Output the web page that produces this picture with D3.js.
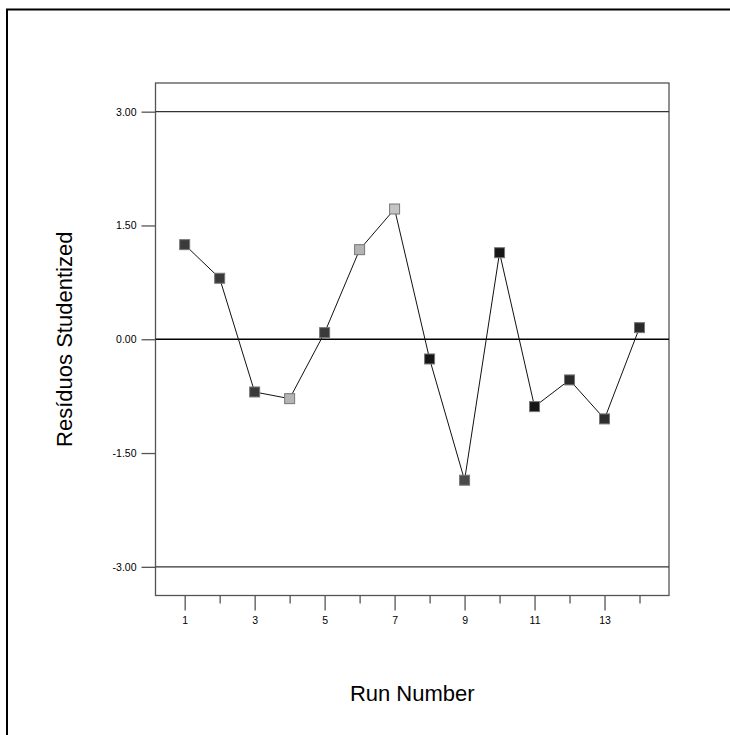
<!DOCTYPE html>
<html>
<head>
<meta charset="utf-8">
<script src="https://cdn.jsdelivr.net/npm/d3@7"></script>
<style>
  body { margin: 0; background: #fff; overflow: hidden; }
  svg { display: block; font-family: "Liberation Sans", Arial, sans-serif; }
</style>
</head>
<body>
<svg id="chart" width="730" height="735"></svg>
<script>
// data
const runs = [1, 2, 3, 4, 5, 6, 7, 8, 9, 10, 11, 12, 13, 14];
const residuals = [1.247, 0.804, -0.695, -0.783, 0.087, 1.181, 1.717, -0.26, -1.858, 1.141, -0.888, -0.536, -1.05, 0.153];
const markerFill = ["#3a3a3a", "#3a3a3a", "#3a3a3a", "#b4b4b4", "#3a3a3a", "#b4b4b4", "#c4c4c4",
                    "#161616", "#4a4a4a", "#161616", "#161616", "#2a2a2a", "#2e2e2e", "#2a2a2a"];
const yTicks = [3, 1.5, 0, -1.5, -3];
const limitLines = [3, 0, -3];
const xLabelTicks = [1, 3, 5, 7, 9, 11, 13];

const svg = d3.select("#chart");

// outer frame: only top and left edges are in view
svg.append("path")
    .attr("d", "M7,740 V9.5 H740")
    .attr("fill", "none")
    .attr("stroke", "#000")
    .attr("stroke-width", 2);

const box = {left: 155.5, right: 669, top: 83, bottom: 595.5};

const x = d3.scaleLinear()
    .domain([0.166, 14.843])
    .range([box.left, box.right]);

const y = d3.scaleLinear()
    .domain([-3.378, 3.378])
    .range([box.bottom, box.top]);

// plot frame
svg.append("rect")
    .attr("x", box.left).attr("y", box.top)
    .attr("width", box.right - box.left)
    .attr("height", box.bottom - box.top)
    .attr("fill", "none")
    .attr("stroke", "#555")
    .attr("stroke-width", 1.3);

// reference lines at +3, 0, -3
svg.selectAll(".limit")
    .data(limitLines)
  .join("line")
    .attr("class", "limit")
    .attr("x1", box.left).attr("x2", box.right)
    .attr("y1", d => y(d)).attr("y2", d => y(d))
    .attr("stroke", d => d === 0 ? "#000" : "#333")
    .attr("stroke-width", 1.4);

// y axis: ticks to the left of the frame
const yAxisG = svg.append("g")
    .attr("transform", `translate(${box.left},0)`)
    .call(d3.axisLeft(y)
        .tickValues(yTicks)
        .tickSize(14)
        .tickPadding(5)
        .tickFormat(d => d.toFixed(2)));
yAxisG.select(".domain").remove();
yAxisG.selectAll(".tick line").attr("stroke", "#555").attr("stroke-width", 1.3);
yAxisG.selectAll(".tick text")
    .attr("fill", "#000")
    .style("font-size", "10.5px")
    .style("font-family", "Liberation Sans, Arial, sans-serif");

// x axis: long ticks on odd runs, short ones on even runs
const xAxisG = svg.append("g")
    .attr("transform", `translate(0,${box.bottom})`)
    .call(d3.axisBottom(x)
        .tickValues(runs)
        .tickSize(15)
        .tickPadding(6)
        .tickFormat(d => xLabelTicks.includes(d) ? d : ""));
xAxisG.select(".domain").remove();
xAxisG.selectAll(".tick line")
    .attr("y2", d => xLabelTicks.includes(d) ? 15 : 8)
    .attr("stroke", "#555")
    .attr("stroke-width", 1.3);
xAxisG.selectAll(".tick text")
    .attr("fill", "#000")
    .style("font-size", "10.5px")
    .style("font-family", "Liberation Sans, Arial, sans-serif");

// residual series
const points = runs.map((r, i) => ({run: r, value: residuals[i], fill: markerFill[i]}));

svg.append("path")
    .datum(points)
    .attr("fill", "none")
    .attr("stroke", "#111")
    .attr("stroke-width", 1)
    .attr("d", d3.line().x(d => x(d.run)).y(d => y(d.value)));

const size = 10;
svg.selectAll(".pt")
    .data(points)
  .join("rect")
    .attr("class", "pt")
    .attr("x", d => x(d.run) - size / 2)
    .attr("y", d => y(d.value) - size / 2)
    .attr("width", size).attr("height", size)
    .attr("fill", d => d.fill)
    .attr("stroke", "#777")
    .attr("stroke-width", 1);

// axis titles
svg.append("text")
    .attr("x", (box.left + box.right) / 2)
    .attr("y", 701)
    .attr("text-anchor", "middle")
    .style("font-size", "22px")
    .text("Run Number");

svg.append("text")
    .attr("transform", `translate(72,${(box.top + box.bottom) / 2}) rotate(-90)`)
    .attr("text-anchor", "middle")
    .style("font-size", "22px")
    .text("Resíduos Studentized");
</script>
</body>
</html>
